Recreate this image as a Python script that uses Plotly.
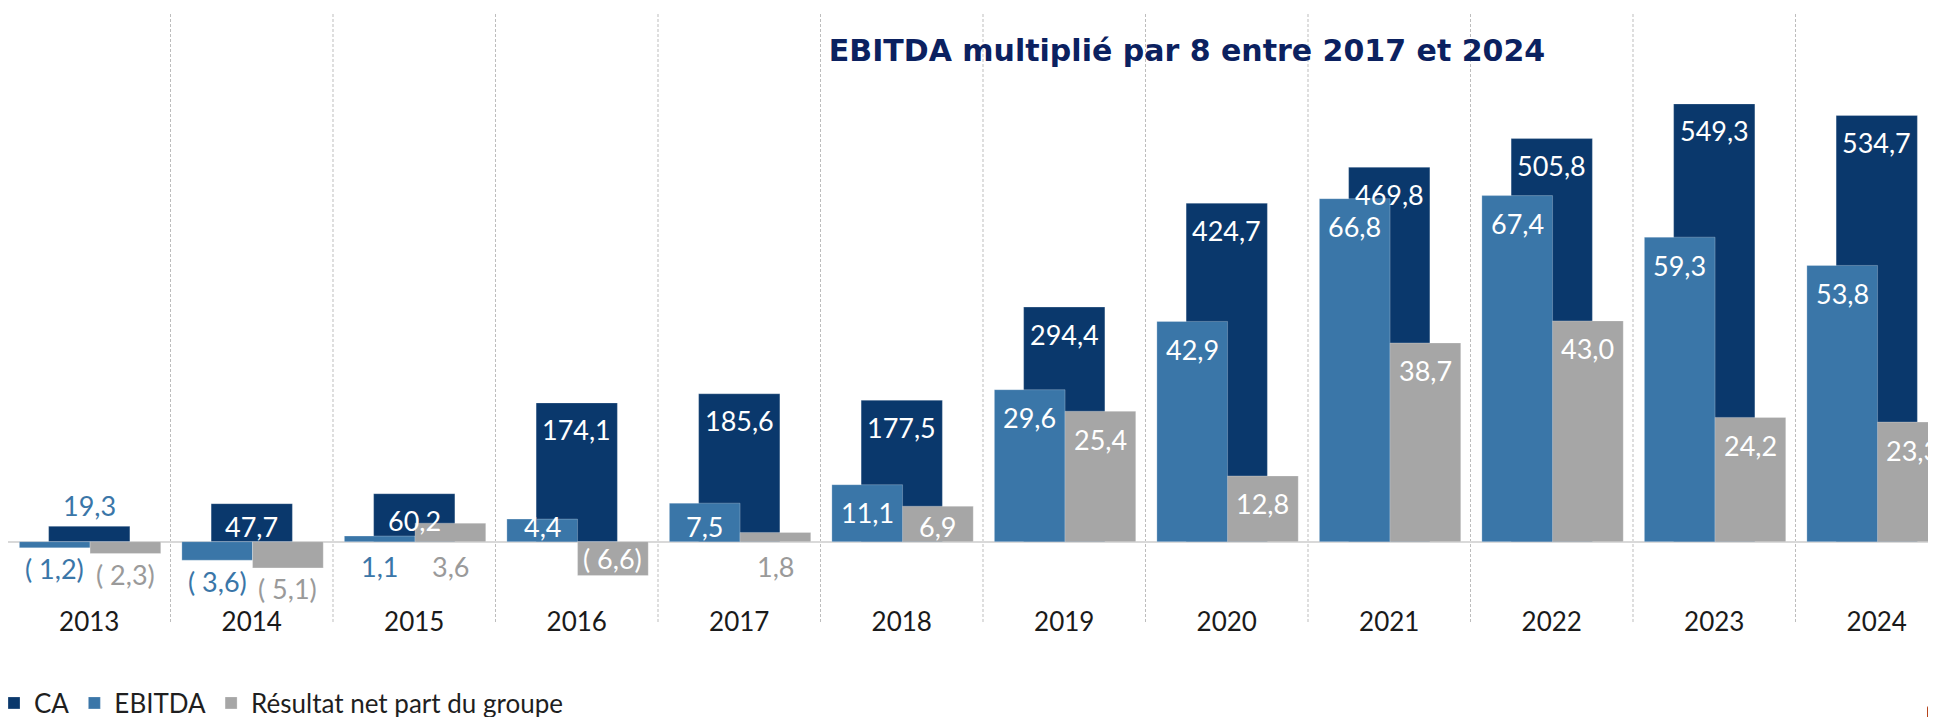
import plotly.graph_objects as go

years = ["2013", "2014", "2015", "2016", "2017", "2018", "2019", "2020", "2021", "2022", "2023", "2024"]
ca = [19.3, 47.7, 60.2, 174.1, 185.6, 177.5, 294.4, 424.7, 469.8, 505.8, 549.3, 534.7]
ebitda = [-1.2, -3.6, 1.1, 4.4, 7.5, 11.1, 29.6, 42.9, 66.8, 67.4, 59.3, 53.8]
resultat = [-2.3, -5.1, 3.6, -6.6, 1.8, 6.9, 25.4, 12.8, 38.7, 43.0, 24.2, 23.3]

names = ["CA", "EBITDA", "Résultat net part du groupe"]
title_text = "EBITDA multiplié par 8 entre 2017 et 2024"

C_CA = "#0a386c"
C_EB = "#3a76a8"
C_RN = "#a6a6a6"
C_RN_TXT = "#9a9a9a"
LABEL_FONT = "Lato"
FS = 27

OFF = 8  # page offset of the figure inside the browser page
W, H = 1936, 717
ML, MR = 0, 0
MT = 14 - OFF
BOTTOM = 604 - OFF
MB = H - BOTTOM
PH = BOTTOM - MT
PW = W - ML - MR
ZERO = 541.7 - OFF
CA_PX = 0.797
SEC_PX = 5.135
STEP = 162.5


def fmt(v):
    s = f"{abs(v):.1f}".replace(".", ",")
    return f"( {s})" if v < 0 else s


fig = go.Figure()
edge = dict(width=1, color="rgba(255,255,255,0.25)")
fig.add_trace(go.Bar(x=years, y=ca, name=names[0], marker=dict(color=C_CA, line=edge),
                     width=0.5, offset=-0.25, yaxis="y", textposition="none"))
fig.add_trace(go.Bar(x=years, y=ebitda, name=names[1], marker=dict(color=C_EB, line=edge),
                     width=0.435, offset=-0.43, yaxis="y2", textposition="none"))
fig.add_trace(go.Bar(x=years, y=resultat, name=names[2], marker=dict(color=C_RN, line=edge),
                     width=0.435, offset=0.005, yaxis="y2", textposition="none"))

# data labels
annotations = []
series_cfg = [
    (ca, "y", 0.0, C_EB, CA_PX, True),
    (ebitda, "y2", -0.2125, C_EB, SEC_PX, False),
    (resultat, "y2", 0.2225, C_RN_TXT, SEC_PX, False),
]
for vals, yref, dx, out_col, ppu, is_ca in series_cfg:
    pad = 27 if is_ca else 28
    for i, v in enumerate(vals):
        h = abs(v) * ppu
        if v >= 0:
            if h >= 20:
                col = "white"
                if h - pad >= 15:
                    yy, shift = v, -pad
                else:
                    yy, shift = 0, 15
            elif is_ca:
                yy, shift, col = v, 21, out_col
            else:
                yy, shift, col = 0, -25, out_col
        else:
            if h >= 30:
                yy, shift, col = v, 17, "white"
            else:
                yy, shift, col = v, -21, out_col
        annotations.append(dict(x=i + dx, y=yy, xref="x", yref=yref, text=fmt(v), showarrow=False,
                                yanchor="middle", xanchor="center", yshift=shift,
                                font=dict(family=LABEL_FONT, size=FS, color=col)))

# dotted separators between years
shapes = []
for i in range(len(years) - 1):
    shapes.append(dict(type="line", xref="x", yref="paper", x0=i + 0.5, x1=i + 0.5,
                       y0=(BOTTOM - (622 - OFF)) / PH, y1=1, layer="below",
                       line=dict(color="#bdbdbd", width=1, dash="3px,2px")))
# small corner mark
x0p = (1927 - OFF - ML) / PW
x1p = (1936 - OFF - ML) / PW
y0p = (BOTTOM - (706 - OFF)) / PH
y1p = (BOTTOM - (717 - OFF)) / PH
shapes.append(dict(type="path", xref="paper", yref="paper",
                   path=f"M {x0p},{y0p} L {x0p},{y1p} L {x1p},{y1p} Z",
                   fillcolor="#b5441c", line=dict(width=0)))

ca_lo = -(BOTTOM - ZERO) / CA_PX
ca_hi = (ZERO - MT) / CA_PX
s_lo = -(BOTTOM - ZERO) / SEC_PX
s_hi = (ZERO - MT) / SEC_PX
x_lo = -0.5
x_hi = x_lo + PW / STEP

fig.update_layout(
    width=W, height=H,
    margin=dict(l=ML, r=MR, t=MT, b=MB, autoexpand=False),
    paper_bgcolor="white", plot_bgcolor="white",
    showlegend=True,
    legend=dict(orientation="h", x=-14 / PW, xanchor="left", y=(BOTTOM - (703 - OFF)) / PH, yanchor="middle",
                font=dict(family=LABEL_FONT, size=26, color="#1f1f1f"), traceorder="normal",
                bgcolor="rgba(0,0,0,0)"),
    title=dict(text=title_text, x=(1187 - OFF) / W, xref="container", xanchor="center",
               y=1 - (50 - OFF) / H, yref="container", yanchor="middle",
               font=dict(family="DejaVu Sans", size=30, color="#0b2160", weight="bold")),
    xaxis=dict(type="category", range=[x_lo, x_hi], showgrid=False, showline=False, ticks="",
               tickfont=dict(family=LABEL_FONT, size=26, color="#1a1a1a"), fixedrange=True),
    yaxis=dict(range=[ca_lo, ca_hi], showgrid=False, zeroline=True, zerolinecolor="#d9d9d9",
               zerolinewidth=2, showticklabels=False, ticks=""),
    yaxis2=dict(range=[s_lo, s_hi], overlaying="y", side="right", showgrid=False, zeroline=False,
                showticklabels=False, ticks=""),
    annotations=annotations,
    shapes=shapes,
)

fig.write_html("out.html")
